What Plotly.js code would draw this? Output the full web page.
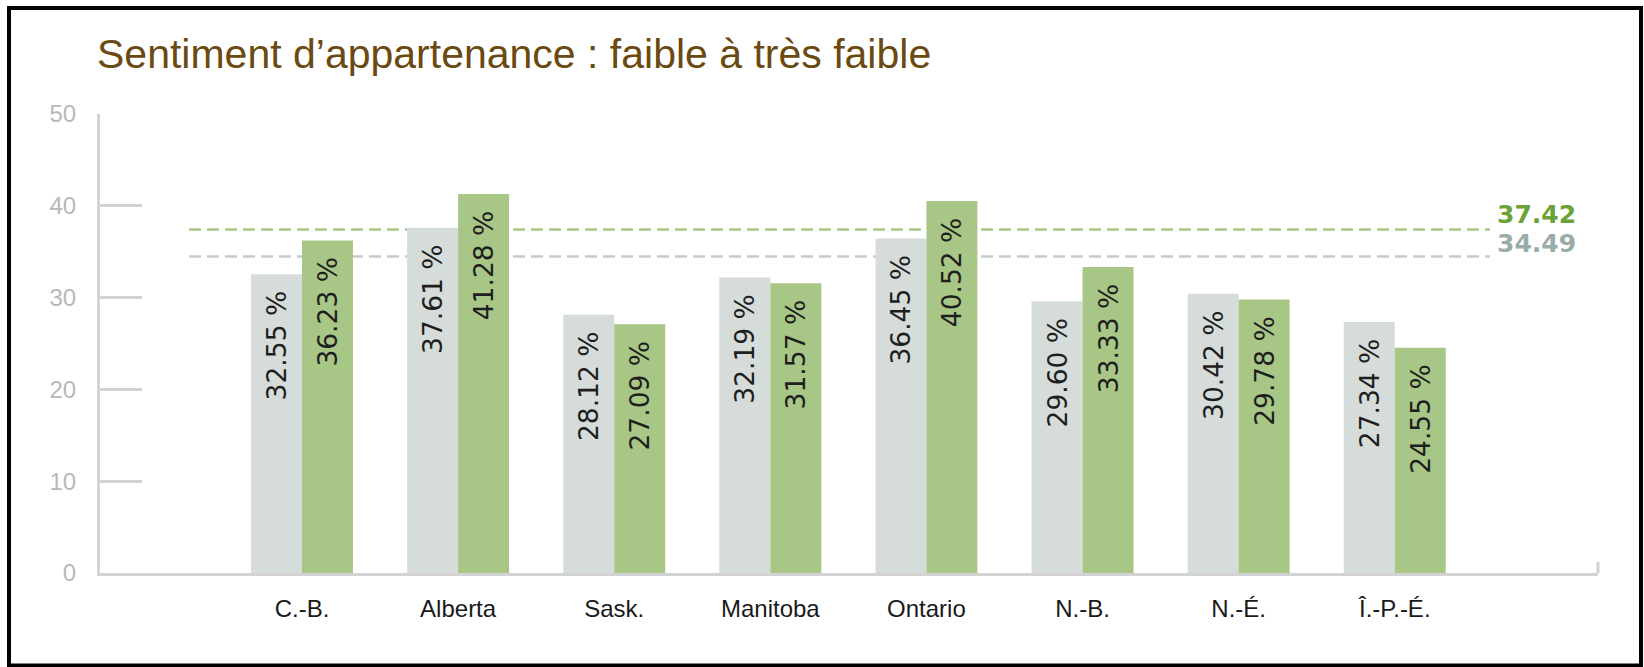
<!DOCTYPE html>
<html>
<head>
<meta charset="utf-8">
<script src="https://cdn.plot.ly/plotly-3.0.1.min.js"></script>
<style>
  html, body { margin: 0; padding: 0; background: #ffffff; }
  #chart { width: 1644px; height: 667px; }
</style>
</head>
<body>
<div id="chart"></div>
<script>
// ---- data ----
var provinces = ['C.-B.', 'Alberta', 'Sask.', 'Manitoba', 'Ontario', 'N.-B.', 'N.-É.', 'Î.-P.-É.'];
var seriesGray = [32.55, 37.61, 28.12, 32.19, 36.45, 29.60, 30.42, 27.34];
var seriesGreen = [36.23, 41.28, 27.09, 31.57, 40.52, 33.33, 29.78, 24.55];
var averageGreen = 37.42;
var averageGray = 34.49;
var yTicks = [0, 10, 20, 30, 40, 50];

// ---- styles ----
var GRAY = '#d5dcd9';
var GREEN = '#a8c686';
var AXIS = '#d3d3d3';
var PAD = '\u00a0\u2009';

function labels(arr) {
  return arr.map(function (v) { return v.toFixed(2) + ' %' + PAD; });
}

var barText = { family: 'DejaVu Sans, sans-serif', size: 26.5, color: '#1e1e1e' };

var traces = [
  {
    type: 'bar', x: provinces, y: seriesGray, name: 'gris',
    marker: { color: GRAY, line: { width: 0 } },
    text: labels(seriesGray), textposition: 'inside', insidetextanchor: 'end',
    textangle: -90, textfont: barText, hoverinfo: 'x+y', cliponaxis: false
  },
  {
    type: 'bar', x: provinces, y: seriesGreen, name: 'vert',
    marker: { color: GREEN, line: { width: 0 } },
    text: labels(seriesGreen), textposition: 'inside', insidetextanchor: 'end',
    textangle: -90, textfont: barText, hoverinfo: 'x+y', cliponaxis: false
  }
];

var W = 1644, H = 667;
var mL = 100, mR = 46, mT = 114, mB = 94;
var plotW = W - mL - mR, plotH = H - mT - mB;
function px2paperX(px) { return (px - mL) / plotW; }
function px2paperY(py) { return (H - mB - py) / plotH; }

var layout = {
  width: W, height: H,
  margin: { l: mL, r: mR, t: mT, b: mB, pad: 0 },
  paper_bgcolor: '#ffffff', plot_bgcolor: '#ffffff',
  showlegend: false,
  barmode: 'group', bargap: 0.347, bargroupgap: 0,
  title: {
    text: 'Sentiment d’appartenance : faible à très faible',
    font: { family: 'Liberation Sans, Arial, sans-serif', size: 41, color: '#6b4a12' },
    xref: 'container', yref: 'container',
    x: 97 / W, xanchor: 'left', y: 1 - 54 / H, yanchor: 'middle'
  },
  xaxis: {
    type: 'category', range: [-1.294, 8.302],
    showgrid: false, zeroline: false,
    showline: true, linecolor: AXIS, linewidth: 3,
    ticks: '', ticklabelstandoff: 12,
    tickfont: { family: 'Liberation Sans, Arial, sans-serif', size: 24, color: '#1a1a1a' },
    fixedrange: true
  },
  yaxis: {
    range: [0, 50], tickvals: yTicks, ticktext: yTicks.map(String),
    showgrid: false, zeroline: false,
    showline: true, linecolor: AXIS, linewidth: 3,
    ticks: 'inside', ticklen: 42, tickwidth: 3, tickcolor: AXIS,
    ticklabelstandoff: 16,
    tickfont: { family: 'Liberation Sans, Arial, sans-serif', size: 24, color: '#b8b8b8' },
    fixedrange: true
  },
  shapes: [
    { type: 'line', xref: 'paper', yref: 'y', x0: px2paperX(189), x1: px2paperX(1490),
      y0: averageGreen, y1: averageGreen, line: { color: GREEN, width: 2.5, dash: '12px,6px' }, layer: 'below' },
    { type: 'line', xref: 'paper', yref: 'y', x0: px2paperX(189), x1: px2paperX(1490),
      y0: averageGray, y1: averageGray, line: { color: '#c6cdca', width: 2.5, dash: '12px,6px' }, layer: 'below' },
    { type: 'line', xref: 'paper', yref: 'paper', x0: 1, x1: 1, y0: 0, y1: px2paperY(562),
      line: { color: AXIS, width: 3 } },
    { type: 'rect', xref: 'paper', yref: 'paper',
      x0: px2paperX(9), x1: px2paperX(1641), y0: px2paperY(665.5), y1: px2paperY(8),
      line: { color: '#000000', width: 4 }, fillcolor: 'rgba(0,0,0,0)' }
  ],
  annotations: [
    { xref: 'paper', yref: 'y', x: px2paperX(1495), y: averageGreen, xanchor: 'left', yanchor: 'bottom',
      yshift: -2, text: '<b>' + averageGreen.toFixed(2) + '</b>', showarrow: false,
      font: { family: 'DejaVu Sans, sans-serif', size: 25, color: '#6aa237' } },
    { xref: 'paper', yref: 'y', x: px2paperX(1495), y: averageGray, xanchor: 'left', yanchor: 'bottom',
      yshift: -4, text: '<b>' + averageGray.toFixed(2) + '</b>', showarrow: false,
      font: { family: 'DejaVu Sans, sans-serif', size: 25, color: '#9aaca8' } }
  ]
};

Plotly.newPlot('chart', traces, layout, { displayModeBar: false, staticPlot: true });
</script>
</body>
</html>
